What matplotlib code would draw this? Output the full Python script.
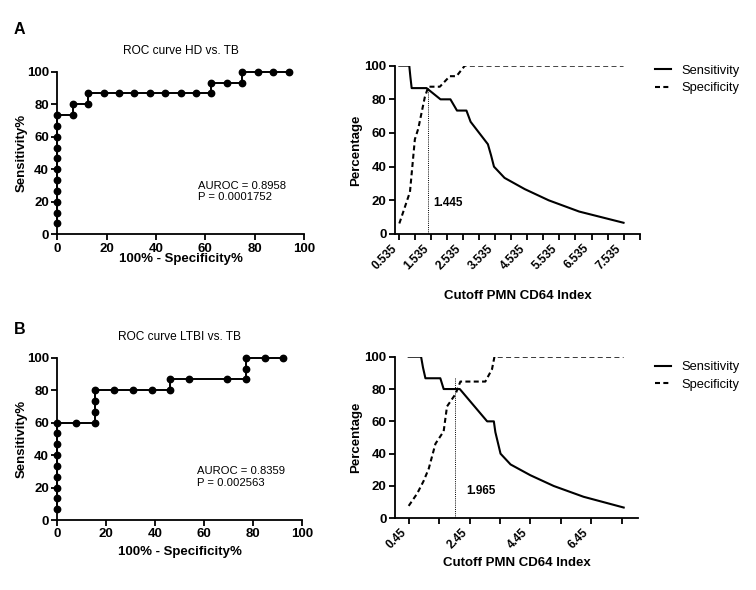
import matplotlib
matplotlib.use("Agg")
import matplotlib.pyplot as plt
from matplotlib.ticker import MultipleLocator, FixedLocator

plt.rcParams['font.family'] = ['Liberation Sans', 'DejaVu Sans']

# ---------------------------
# data
# ---------------------------

# ROC HD vs TB  (100% - specificity, sensitivity)
roc_hd_x = [0, 0, 0, 0, 0, 0, 0, 0, 0, 0, 0, 6.25, 6.25, 12.5, 12.5,
            18.75, 25, 31.25, 37.5, 43.75, 50, 56.25, 62.5,
            62.5, 68.75, 75, 75, 81.25, 87.5, 93.75]
roc_hd_y = [6.67, 13.33, 20, 26.67, 33.33, 40, 46.67, 53.33, 60, 66.67, 73.33,
            73.33, 80, 80, 86.67,
            86.67, 86.67, 86.67, 86.67, 86.67, 86.67, 86.67, 86.67,
            93.33, 93.33, 93.33, 100, 100, 100, 100]

# ROC LTBI vs TB
roc_ltbi_x = [0, 0, 0, 0, 0, 0, 0, 0, 0, 7.69, 15.38, 15.38, 15.38, 15.38,
              23.08, 30.77, 38.46, 46.15, 46.15, 53.85, 69.23,
              76.92, 76.92, 76.92, 84.62, 92.31]
roc_ltbi_y = [6.67, 13.33, 20, 26.67, 33.33, 40, 46.67, 53.33, 60, 60, 60,
              66.67, 73.33, 80, 80, 80, 80, 80, 86.67, 86.67, 86.67,
              86.67, 93.33, 100, 100, 100]

# cutoff curves HD vs TB
sens_hd_x = [0.535, 0.845, 0.88, 0.92, 1.385, 1.82, 2.13, 2.335, 2.63, 2.76,
             3.3, 3.4, 3.49, 3.82, 4.45, 5.2, 6.15, 7.535]
sens_hd_y = [100, 100, 93.33, 86.67, 86.67, 80, 80, 73.33, 73.33, 66.67,
             53.33, 46.67, 40, 33.33, 26.67, 20, 13.33, 6.67]
spec_hd_x = [0.535, 0.867, 1.02, 1.125, 1.33, 1.44, 1.8, 2.11, 2.32, 2.58, 7.535]
spec_hd_y = [6.25, 25, 56.25, 62.5, 81.25, 87.5, 87.5, 93.75, 93.75, 100, 100]
cutoff_hd = 1.445

# cutoff curves LTBI vs TB
sens_ltbi_x = [0.45, 0.857, 0.92, 1.0, 1.49, 1.6, 2.13, 3.03, 3.25, 3.3,
               3.47, 3.8, 4.45, 5.22, 6.2, 7.52]
sens_ltbi_y = [100, 100, 93.33, 86.67, 86.67, 80, 80, 60, 60, 53.33,
               40, 33.33, 26.67, 20, 13.33, 6.67]
spec_ltbi_x = [0.45, 0.73, 0.94, 1.11, 1.33, 1.6, 1.71, 1.99, 2.15, 2.97, 3.19, 3.27, 7.52]
spec_ltbi_y = [7.69, 15.38, 23.08, 30.77, 46.15, 53.85, 69.23, 76.92, 84.62,
               84.62, 92.31, 100, 100]
cutoff_ltbi = 1.965
cutoff_top = 87

hd_ticks = [0.535, 1.535, 2.535, 3.535, 4.535, 5.535, 6.535, 7.535]
ltbi_ticks = [0.45, 2.45, 4.45, 6.45]

# ---------------------------
# layout
# ---------------------------
fig = plt.figure(figsize=(7.56, 5.9), dpi=100)
ax_a1 = fig.add_axes([0.0758, 0.6029, 0.3263, 0.2756])
ax_a2 = fig.add_axes([0.5225, 0.6034, 0.3241, 0.2853])
ax_b1 = fig.add_axes([0.0758, 0.1186, 0.3240, 0.2751])
ax_b2 = fig.add_axes([0.5225, 0.1215, 0.3218, 0.2739])

lab_font = dict(fontsize=9.5, fontweight='bold')


def style_axes(ax):
    for s in ['top', 'right']:
        ax.spines[s].set_visible(False)
    for s in ['left', 'bottom']:
        ax.spines[s].set_linewidth(1.3)
    ax.tick_params(which='both', direction='out', length=4, width=1.3, pad=2)
    ax.tick_params(axis='y', labelsize=9.5)
    ax.set_ylim(0, 100)
    ax.yaxis.set_major_locator(MultipleLocator(20))
    for lbl in ax.get_yticklabels():
        lbl.set_fontweight('bold')


def roc_panel(ax, xs, ys, title, auroc_txt, xlab_y):
    style_axes(ax)
    ax.plot(xs, ys, color='black', lw=1.4, marker='o', ms=4.6, clip_on=False, zorder=3)
    ax.set_xlim(0, 100)
    ax.xaxis.set_major_locator(MultipleLocator(20))
    ax.tick_params(axis='x', labelsize=9.5)
    for lbl in ax.get_xticklabels() + ax.get_yticklabels():
        lbl.set_fontweight('bold')
    ax.set_title(title, fontsize=8.6, pad=13)
    ax.set_xlabel("100% - Specificity%", **lab_font)
    ax.set_ylabel("Sensitivity%", **lab_font)
    ax.xaxis.set_label_coords(0.5, xlab_y)
    ax.yaxis.set_label_coords(-0.122, 0.5)
    ax.text(0.570, 0.265, auroc_txt, transform=ax.transAxes, fontsize=8.1,
            ha='left', va='center', linespacing=1.15)


def cutoff_panel(ax, sx, sy, px, py, cut, ticks, minor, xlim, cut_lbl_xy, xlab_y, leg_y):
    style_axes(ax)
    ax.plot(sx, sy, color='black', lw=1.5, label='Sensitivity')
    ax.plot(px, py, color='black', lw=1.5, linestyle=(0, (2.4, 1.6)), label='Specificity')
    ax.plot([cut, cut], [0, cutoff_top], color='black', lw=0.7, linestyle=(0, (1, 1.2)))
    ax.text(cut_lbl_xy[0], cut_lbl_xy[1], str(cut), fontsize=8.5, fontweight='bold',
            ha='center', va='center')
    ax.set_xlim(*xlim)
    ax.xaxis.set_major_locator(FixedLocator(ticks))
    ax.xaxis.set_minor_locator(FixedLocator(minor))
    ax.set_xticklabels([str(t) for t in ticks], rotation=45, ha='right',
                       fontsize=8.5, fontweight='bold')
    ax.set_xlabel("Cutoff PMN CD64 Index", **lab_font)
    ax.set_ylabel("Percentage", **lab_font)
    ax.xaxis.set_label_coords(0.5, xlab_y)
    ax.yaxis.set_label_coords(-0.135, 0.5)
    ax.legend(loc='upper left', bbox_to_anchor=(0.866, leg_y), bbox_transform=fig.transFigure,
              frameon=False, fontsize=9.3, handlelength=1.3, handletextpad=0.8,
              labelspacing=0.45, borderpad=0, borderaxespad=0)


roc_panel(ax_a1, roc_hd_x, roc_hd_y, "ROC curve HD vs. TB",
          "AUROC = 0.8958\nP = 0.0001752", -0.118)
roc_panel(ax_b1, roc_ltbi_x, roc_ltbi_y, "ROC curve LTBI vs. TB",
          "AUROC = 0.8359\nP = 0.002563", -0.158)

cutoff_panel(ax_a2, sens_hd_x, sens_hd_y, spec_hd_x, spec_hd_y, cutoff_hd,
             hd_ticks, [1.035, 2.035, 3.035, 4.035, 5.035, 6.035, 7.035, 8.035],
             (0.4, 8.05), (2.05, 18.4), -0.333, 0.8907)
cutoff_panel(ax_b2, sens_ltbi_x, sens_ltbi_y, spec_ltbi_x, spec_ltbi_y, cutoff_ltbi,
             ltbi_ticks, [1.45, 3.45, 5.45, 7.45],
             (0, 8), (2.81, 17.1), -0.24, 0.388)

fig.text(19 / 756, 1 - 30 / 590, "A", fontsize=11.5, fontweight='bold', ha='center', va='center')
fig.text(20 / 756, 1 - 330 / 590, "B", fontsize=11.5, fontweight='bold', ha='center', va='center')

fig.savefig("out.png", dpi=100)
